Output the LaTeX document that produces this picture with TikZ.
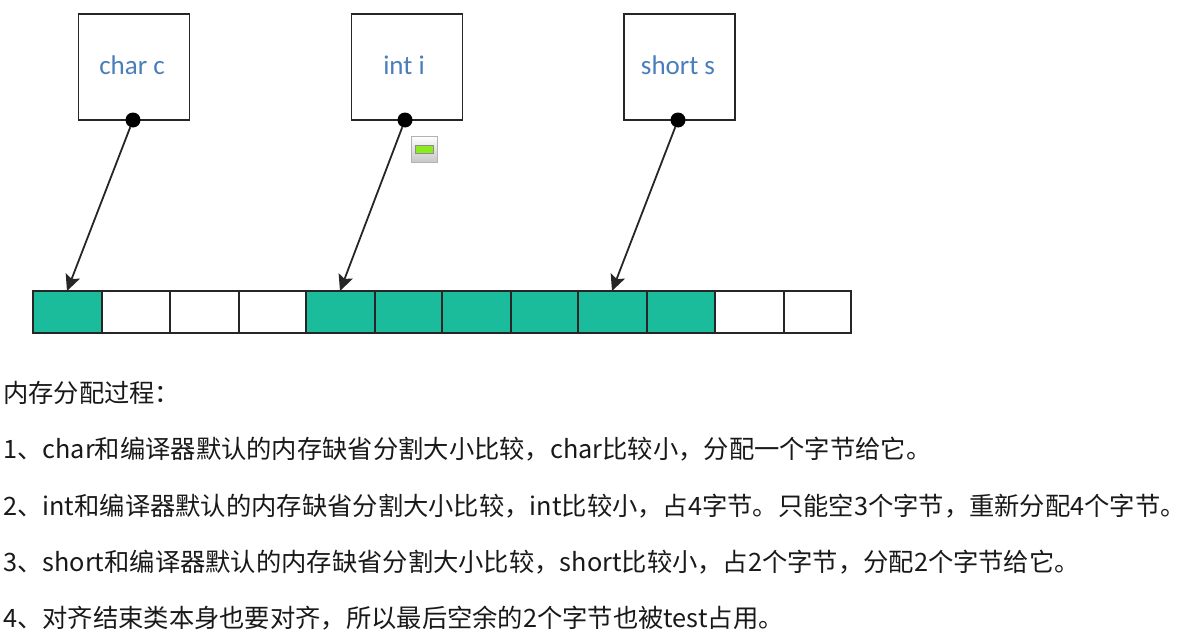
\documentclass[tikz,border=0pt]{standalone}
\usepackage{fontspec}
\setmainfont{Noto Sans CJK SC}
\newfontfamily\labelfont{Carlito}
\usetikzlibrary{arrows.meta}
\definecolor{cellfill}{HTML}{1ABC9C}
\definecolor{labelblue}{HTML}{4A7EBB}
\definecolor{markgreen}{HTML}{8CEB1E}
\tikzset{
  x=1pt,y=-1pt,
  varbox/.style={draw=black!85,line width=1.8pt,fill=white,minimum width=111pt,minimum height=106pt,inner sep=0pt},
  varlabel/.style={inner sep=0pt,text=labelblue,font=\labelfont\fontsize{27}{30}\selectfont},
  pin/.style={circle,fill=black,inner sep=0pt,minimum size=15pt},
  link/.style={draw=black!85,line width=1.8pt,-{Stealth[length=16pt,width=15pt,inset=3pt]}},
  memcell/.style={draw=black!85,line width=1.5pt,fill=white},
  used/.style={memcell,fill=cellfill},
  para/.style={anchor=base west,inner sep=0pt,font=\fontsize{25.3}{30}\selectfont,text=black!90}
}
\begin{document}
\begin{tikzpicture}
\useasboundingbox (0,0) rectangle (1192,642);
\node[varbox] (c) at (134,67) {};
\node[varbox] (i) at (407,67) {};
\node[varbox] (s) at (679.5,67) {};
\node[varlabel] (cl) at (132,65) {char c};
\node[varlabel] (il) at (404,65) {int i};
\node[varlabel] (sl) at (678,65) {short s};
\node[pin] (pc) at (133,120) {};
\node[pin] (pi) at (405,120) {};
\node[pin] (ps) at (678,120) {};
% collapse marker
\path[draw=black!30,line width=1pt,top color=white,bottom color=black!22] (411,136) rectangle (437,162);
\path[draw=black!45,line width=.8pt,fill=markgreen] (415,145) rectangle (433,153);
% memory cells
\draw[used] (33,291) rectangle (102,333);
\draw[memcell] (102,291) rectangle (170,333);
\draw[memcell] (170,291) rectangle (239,333);
\draw[memcell] (239,291) rectangle (306,333);
\draw[used] (306,291) rectangle (375,333);
\draw[used] (375,291) rectangle (442,333);
\draw[used] (442,291) rectangle (511,333);
\draw[used] (511,291) rectangle (578,333);
\draw[used] (578,291) rectangle (647,333);
\draw[used] (647,291) rectangle (715,333);
\draw[memcell] (715,291) rectangle (784,333);
\draw[memcell] (784,291) rectangle (851,333);
\coordinate (tc) at (67,291);
\coordinate (ti) at (340,291);
\coordinate (ts) at (612,291);
\draw[link] (pc) -- (tc);
\draw[link] (pi) -- (ti);
\draw[link] (ps) -- (ts);
\node[para] (l0) at (3,402) {内存分配过程：};
\node[para] (l1) at (3,458) {1、char和编译器默认的内存缺省分割大小比较，char比较小，分配一个字节给它。};
\node[para] (l2) at (3,515) {2、int和编译器默认的内存缺省分割大小比较，int比较小，占4字节。只能空3个字节，重新分配4个字节。};
\node[para] (l3) at (3,571) {3、short和编译器默认的内存缺省分割大小比较，short比较小，占2个字节，分配2个字节给它。};
\node[para] (l4) at (3,627) {4、对齐结束类本身也要对齐，所以最后空余的2个字节也被test占用。};
\end{tikzpicture}
\end{document}
